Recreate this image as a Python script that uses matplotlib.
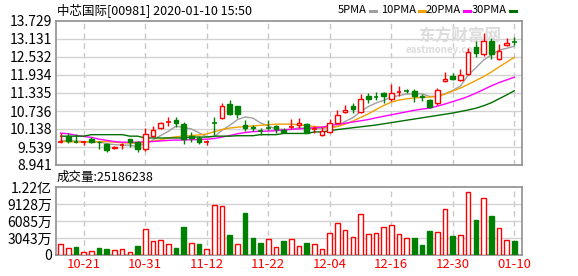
import matplotlib
matplotlib.use('Agg')
import matplotlib.pyplot as plt
from matplotlib.patches import Rectangle
from matplotlib.lines import Line2D

plt.rcParams['font.family'] = ['Noto Sans CJK SC', 'DejaVu Sans']

# ---- data ----
days = ['10-16', '10-17', '10-18', '10-21', '10-22', '10-23', '10-24', '10-25', '10-28', '10-29',
        '10-30', '10-31', '11-01', '11-04', '11-05', '11-06', '11-07', '11-08', '11-11', '11-12',
        '11-13', '11-14', '11-15', '11-18', '11-19', '11-20', '11-21', '11-22', '11-25', '11-26',
        '11-27', '11-28', '11-29', '12-02', '12-03', '12-04', '12-05', '12-06', '12-09', '12-10',
        '12-11', '12-12', '12-13', '12-16', '12-17', '12-18', '12-19', '12-20', '12-23', '12-24',
        '12-27', '12-30', '12-31', '01-02', '01-03', '01-06', '01-07', '01-08', '01-09', '01-10']

opens = [9.69, 9.90, 9.71, 9.69, 9.80, 9.72, 9.65, 9.50, 9.60, 9.79,
         9.70, 9.46, 9.915, 10.16, 10.38, 10.44, 10.31, 9.92, 9.83, 9.71,
         10.35, 10.49, 10.97, 10.90, 10.28, 10.22, 10.08, 10.17, 10.24, 10.10,
         10.19, 10.27, 10.30, 10.15, 9.94, 10.03, 10.35, 10.69, 10.90, 10.71,
         11.24, 11.19, 11.33, 11.12, 11.37, 11.41, 11.41, 11.25, 11.10, 10.99,
         11.72, 11.90, 11.76, 11.97, 12.85, 12.62, 13.07, 12.46, 12.93, 13.03]
highs = [9.99, 9.99, 9.97, 9.74, 9.88, 9.75, 9.68, 9.56, 9.66, 9.82,
         9.75, 10.16, 10.24, 10.38, 10.53, 10.53, 10.38, 10.03, 9.90, 9.77,
         10.53, 11.01, 11.10, 10.91, 10.45, 10.28, 10.16, 10.45, 10.27, 10.17,
         10.46, 10.49, 10.34, 10.24, 10.19, 10.46, 10.77, 10.94, 11.01, 11.29,
         11.33, 11.36, 11.38, 11.63, 11.57, 11.46, 11.46, 11.29, 11.12, 11.49,
         12.04, 12.01, 12.12, 12.82, 13.07, 13.34, 13.15, 12.96, 13.15, 13.19]
lows = [9.66, 9.67, 9.66, 9.62, 9.66, 9.48, 9.38, 9.48, 9.48, 9.53,
        9.37, 9.41, 9.88, 10.13, 10.25, 10.22, 9.63, 9.72, 9.63, 9.61,
        9.94, 10.46, 10.62, 10.49, 10.07, 10.06, 9.94, 10.10, 10.02, 9.99,
        10.13, 10.16, 9.99, 10.02, 9.92, 9.99, 10.33, 10.66, 10.66, 10.68,
        11.01, 11.10, 11.00, 11.08, 11.25, 11.33, 11.05, 11.08, 10.84, 10.94,
        11.71, 11.77, 11.75, 11.93, 12.52, 12.58, 12.46, 12.43, 12.90, 12.92]
closes = [9.70, 9.75, 9.70, 9.70, 9.72, 9.69, 9.43, 9.55, 9.61, 9.70,
          9.48, 9.97, 10.105, 10.34, 10.39, 10.33, 9.80, 9.85, 9.70, 9.72,
          10.34, 10.91, 10.63, 10.63, 10.18, 10.17, 10.07, 10.16, 10.14, 10.05,
          10.20, 10.35, 10.00, 10.16, 10.07, 10.33, 10.60, 10.77, 10.79, 11.13,
          11.13, 11.18, 11.22, 11.34, 11.38, 11.40, 11.22, 11.21, 10.87, 11.44,
          11.80, 11.79, 11.93, 12.69, 12.66, 13.07, 12.63, 12.74, 13.01, 13.02]

ma5 = [9.76, 9.75, 9.74, 9.72, 9.71, 9.71, 9.65, 9.62, 9.60, 9.60,
       9.55, 9.66, 9.77, 9.92, 10.06, 10.23, 10.19, 10.14, 10.01, 9.88,
       9.88, 10.10, 10.26, 10.45, 10.54, 10.50, 10.34, 10.24, 10.14, 10.12,
       10.12, 10.18, 10.15, 10.15, 10.16, 10.18, 10.23, 10.39, 10.51, 10.72,
       10.88, 11.00, 11.09, 11.20, 11.25, 11.30, 11.31, 11.31, 11.22, 11.23,
       11.31, 11.42, 11.57, 11.93, 12.17, 12.43, 12.60, 12.76, 12.82, 12.89]
ma10 = [9.72, 9.72, 9.70, 9.70, 9.71, 9.72, 9.72, 9.70, 9.68, 9.67,
        9.66, 9.70, 9.73, 9.78, 9.84, 9.88, 9.90, 9.92, 9.94, 9.97,
        10.05, 10.12, 10.17, 10.20, 10.22, 10.24, 10.26, 10.28, 10.30, 10.30,
        10.30, 10.28, 10.25, 10.22, 10.20, 10.18, 10.22, 10.30, 10.40, 10.52,
        10.64, 10.78, 10.92, 11.03, 11.10, 11.14, 11.17, 11.19, 11.20, 11.22,
        11.30, 11.40, 11.50, 11.62, 11.75, 11.88, 12.03, 12.20, 12.36, 12.52]
ma20 = [10.00, 9.98, 9.93, 9.89, 9.86, 9.80, 9.76, 9.72, 9.70, 9.70,
        9.70, 9.71, 9.72, 9.74, 9.76, 9.77, 9.77, 9.78, 9.79, 9.80,
        9.82, 9.87, 9.92, 9.98, 10.02, 10.05, 10.06, 10.07, 10.08, 10.11,
        10.13, 10.14, 10.16, 10.18, 10.20, 10.25, 10.29, 10.33, 10.37, 10.41,
        10.45, 10.51, 10.56, 10.61, 10.66, 10.71, 10.76, 10.80, 10.83, 10.90,
        10.97, 11.05, 11.13, 11.22, 11.33, 11.45, 11.57, 11.68, 11.77, 11.86]
ma30 = [9.90, 9.90, 9.90, 9.90, 9.95, 9.95, 9.95, 9.95, 9.95, 9.90,
        9.90, 9.84, 9.84, 9.84, 9.84, 9.84, 9.84, 9.87, 9.87, 9.87,
        9.90, 9.90, 9.90, 9.915, 9.915, 9.915, 9.95, 9.95, 9.95, 9.99,
        9.99, 9.99, 9.99, 10.04, 10.04, 10.08, 10.12, 10.15, 10.18, 10.21,
        10.24, 10.27, 10.31, 10.35, 10.39, 10.43, 10.47, 10.51, 10.55, 10.59,
        10.63, 10.67, 10.72, 10.77, 10.83, 10.91, 11.01, 11.14, 11.27, 11.41]

# volume in units of 万 (10k shares), last one is the exact value shown
volumes = [1935, 1230, 1400, 530, 700, 1230, 1055, 880, 1055, 530,
           1580, 4570, 2460, 2640, 1935, 1230, 4925, 2110, 1935, 1055,
           8920, 8800, 3520, 1935, 7560, 2990, 2110, 2815, 1400, 2460,
           2815, 1580, 2110, 1935, 1055, 3870, 5800, 4400, 3170, 7390,
           3700, 3870, 5100, 5450, 3700, 2990, 2990, 1760, 4220, 4050,
           8270, 3340, 3520, 11260, 6330, 10200, 7040, 4750, 2640, 2518.6238]
vol_up = [1, 1, 0, 1, 1, 0, 0, 1, 1, 1,
          0, 1, 1, 1, 1, 0, 0, 1, 0, 1,
          1, 1, 0, 1, 0, 0, 0, 1, 1, 0,
          1, 1, 0, 1, 1, 1, 1, 1, 1, 1,
          1, 1, 1, 1, 1, 1, 0, 0, 0, 1,
          1, 0, 1, 1, 0, 1, 0, 1, 1, 0]

tick_days = ['10-21', '10-31', '11-12', '11-22', '12-04', '12-16', '12-30', '01-10']
price_labels = ['8.941', '9.539', '10.138', '10.736', '11.335', '11.934', '12.532', '13.131', '13.729']
vol_labels = ['0', '3043万', '6085万', '9128万', '1.22亿']
vol_ticks = [0, 3042.75, 6085.5, 9128.25, 12171]

ma_names = ['5PMA', '10PMA', '20PMA', '30PMA']
ma_colors = ['#a0a0a0', '#f0a000', '#ff00ff', '#006f00']

RED = '#ff0000'
GREEN = '#008000'
GRID = '#d2d2d2'
FRAME = '#8f8f8f'

W, H = 578, 276
fig = plt.figure(figsize=(W / 100, H / 100), dpi=100)
ax = fig.add_axes([56 / W, 1 - 165 / H, 466 / W, 144 / H])
axv = fig.add_axes([56 / W, 1 - 255 / H, 466 / W, 68 / H])

x = list(range(len(days)))
tick_idx = [days.index(d) for d in tick_days]

for a in (ax, axv):
    a.set_xlim(-0.6, 60.0)
    for s in a.spines.values():
        s.set_color(FRAME)
        s.set_linewidth(1.2)
    a.tick_params(length=0, pad=3, labelsize=10)
    for t in tick_idx:
        a.axvline(t, color='#c8c8c8', lw=1, ls=(0, (4, 3)), zorder=0)

# price panel
price_vals = [float(v) for v in price_labels]
ax.set_ylim(price_vals[0], price_vals[-1])
ax.set_yticks(price_vals)
ax.set_yticklabels(price_labels)
ax.set_xticks([])
for v in price_vals[1:-1]:
    ax.axhline(v, color=GRID, lw=1, zorder=0)

ax.text(0.955, 0.89, '东方财富网', transform=ax.transAxes, ha='right', va='center',
        fontsize=12, fontweight='bold', color='#dcdcdc', zorder=0)
ax.text(0.915, 0.80, 'eastmoney.com', transform=ax.transAxes, ha='right', va='center',
        fontsize=7, fontweight='bold', color='#dcdcdc', zorder=0)

for vals, col in zip([ma5, ma10, ma20, ma30], ma_colors):
    ax.plot(x, vals, color=col, lw=1, zorder=2)

w = 0.6
for i, (o, h, l, c) in enumerate(zip(opens, highs, lows, closes)):
    up = c >= o
    col = RED if up else GREEN
    if abs(c - o) < 0.015:
        ax.vlines(i, l, h, color=col, lw=1, zorder=3)
        ax.hlines(o, i - w / 2, i + w / 2, color=col, lw=1.2, zorder=3)
    elif up:
        ax.vlines(i, c, h, color=col, lw=1, zorder=3)
        ax.vlines(i, l, o, color=col, lw=1, zorder=3)
        ax.add_patch(Rectangle((i - w / 2, o), w, c - o, facecolor='white',
                               edgecolor=col, lw=1, zorder=4))
    else:
        ax.vlines(i, l, h, color=col, lw=1, zorder=3)
        ax.add_patch(Rectangle((i - w / 2, c), w, o - c, facecolor=col,
                               edgecolor=col, lw=1, zorder=4))

# volume panel
axv.set_ylim(0, vol_ticks[-1])
axv.set_yticks(vol_ticks)
axv.set_yticklabels(vol_labels)
for v in vol_ticks[1:-1]:
    axv.axhline(v, color=GRID, lw=1, zorder=0)
for i, (v, u) in enumerate(zip(volumes, vol_up)):
    if u:
        axv.add_patch(Rectangle((i - w / 2, 0), w, v, facecolor='white',
                                edgecolor=RED, lw=1, zorder=3))
    else:
        axv.add_patch(Rectangle((i - w / 2, 0), w, v, facecolor=GREEN,
                                edgecolor=GREEN, lw=1, zorder=3))
axv.set_xticks(tick_idx)
axv.set_xticklabels(tick_days, color=RED, fontsize=9.5)
axv.tick_params(axis='x', pad=2)

# header texts
fig.text(57 / W, 1 - 10 / H, '中芯国际[00981] 2020-01-10 15:50', ha='left', va='center', fontsize=9)
fig.text(57 / W, 1 - 177 / H, '成交量:' + str(int(round(volumes[-1] * 10000))),
         ha='left', va='center', fontsize=9)

leg_x = [338, 381, 426, 472]
for name, col, lx in zip(ma_names, ma_colors, leg_x):
    t = fig.text(lx / W, 1 - 10 / H, name, ha='left', va='center', fontsize=8)
    fig.canvas.draw()
    bb = t.get_window_extent()
    x0 = bb.x1 + 3
    fig.add_artist(Line2D([x0 / W, (x0 + 6) / W], [1 - 11 / H, 1 - 11 / H],
                          color=col, lw=2.2, transform=fig.transFigure))

fig.savefig('out.png', dpi=100)
